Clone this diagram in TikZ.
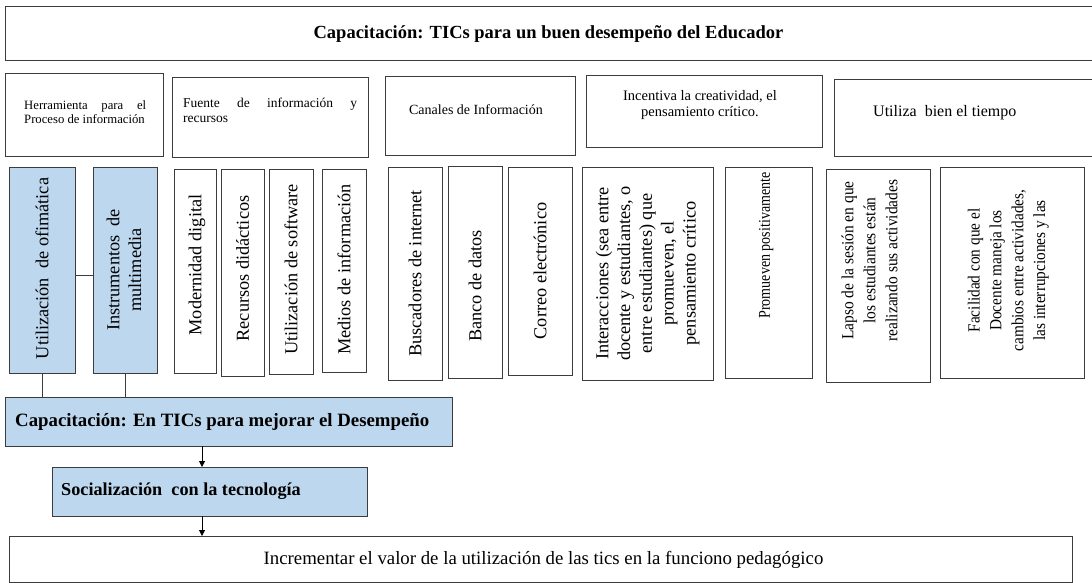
\documentclass[tikz,border=0pt]{standalone}
\usepackage{fontspec}
\setmainfont{Liberation Serif}
\usetikzlibrary{arrows.meta}
\definecolor{edge}{RGB}{60,60,60}
\definecolor{lblue}{RGB}{189,215,238}
\newcommand\mybox[6]{\node[#1, anchor=north west, minimum width={(#5-#3)*1pt}, minimum height={(#6-#4)*1pt}] (#2) at (#3,#4) {};}
\newcommand\narrow[2]{\scalebox{#1}[1]{\begin{tabular}{@{}c@{}}#2\end{tabular}}}
\tikzset{
  wbox/.style={draw=edge, line width=1pt, fill=white, inner sep=0pt, outer sep=0pt},
  bbox/.style={draw=edge, line width=1pt, fill=lblue, inner sep=0pt, outer sep=0pt},
  vtxt/.style={rotate=90, align=center, inner sep=0pt, font=\fontsize{18.3}{21.8}\selectfont},
  conn/.style={draw=edge, line width=1pt},
  arr/.style={draw=black, line width=1pt, -{Triangle[length=6pt,width=6pt]}}
}
\begin{document}
\begin{tikzpicture}[x=1pt,y=-1pt]
\useasboundingbox (0,0) rectangle (1092,583);
% title
\mybox{wbox}{top}{5}{7}{1096}{61}
\node[inner sep=0pt, font=\fontsize{18.5}{21}\selectfont\bfseries] (toptxt) at ([xshift=-2pt]top.center) {Capacitación: TICs para un buen desempeño del Educador};
% row 2
\mybox{wbox}{her}{5}{74}{163}{156}
\mybox{wbox}{fue}{172}{78}{368}{157}
\mybox{wbox}{can}{385}{77}{575}{155}
\mybox{wbox}{inc}{586}{76}{822}{148}
\mybox{wbox}{uti}{834}{80}{1096}{156}
\node[inner sep=0pt, font=\fontsize{12.7}{14.5}\selectfont, anchor=west, text width=122pt, align=justify] (hertxt) at ([xshift=19pt,yshift=3pt]her.west) {Herramienta para el\linebreak Proceso de información};
\node[inner sep=0pt, font=\fontsize{13.5}{15}\selectfont, anchor=west, text width=174pt, align=justify] (fuetxt) at ([xshift=11pt,yshift=7pt]fue.west) {Fuente de información y\linebreak recursos};
\node[inner sep=0pt, font=\fontsize{14}{16}\selectfont] (cantxt) at ([xshift=-4pt,yshift=6pt]can.center) {Canales de Información};
\node[inner sep=0pt, align=center, font=\fontsize{14.5}{16}\selectfont] (inctxt) at ([xshift=-4pt,yshift=7pt]inc.center) {Incentiva la creatividad, el\\pensamiento crítico.};
\node[inner sep=0pt, anchor=west, font=\fontsize{16}{18}\selectfont] (utitxt) at ([xshift=39pt,yshift=5pt]uti.west) {Utiliza\ \ bien el tiempo};
% row 3
\mybox{bbox}{ofi}{9}{167}{75}{373}
\mybox{bbox}{ins}{93}{167}{157}{373}
\mybox{wbox}{mod}{174}{169}{216}{373}
\mybox{wbox}{rec}{221}{169}{264}{376}
\mybox{wbox}{sof}{269}{169}{313}{374}
\mybox{wbox}{med}{322}{169}{366}{372}
\mybox{wbox}{bus}{388}{167}{442}{380}
\mybox{wbox}{ban}{448}{166}{502}{378}
\mybox{wbox}{cor}{508}{167}{572}{375}
\mybox{wbox}{int}{582}{167}{713}{380}
\mybox{wbox}{pro}{725}{167}{812}{378}
\mybox{wbox}{lap}{826}{169}{930}{382}
\mybox{wbox}{fac}{940}{167}{1084}{378}
\node[vtxt] (ofitxt) at ([yshift=1.5pt]ofi.center) {Utilización\ \ de ofimática};
\node[vtxt] (instxt) at ([xshift=-1pt]ins.center) {Instrumentos\ \ de\\multimedia};
\node[vtxt] (modtxt) at ([xshift=2pt,yshift=6pt]mod.center) {Modernidad digital};
\node[vtxt] (rectxt) at ([yshift=4pt]rec.center) {Recursos didácticos};
\node[vtxt] (softxt) at ([yshift=2pt]sof.center) {Utilización de software};
\node[vtxt] (medtxt) at ([yshift=1pt]med.center) {Medios de información};
\node[vtxt] (bustxt) at (bus.center) {Buscadores de internet};
\node[vtxt] (bantxt) at ([yshift=-14pt]ban.center) {Banco de datos};
\node[vtxt] (cortxt) at (cor.center) {Correo electrónico};
\node[vtxt] (inttxt) at (int.center) {Interacciones (sea entre\\docente y estudiantes, o\\entre estudiantes) que\\promueven, el\\pensamiento crítico};
\node[vtxt, font=\fontsize{16.5}{22}\selectfont] (protxt) at ([xshift=-3pt,yshift=27pt]pro.center) {\narrow{0.85}{Promueven positivamente}};
\node[vtxt, font=\fontsize{17}{22}\selectfont] (laptxt) at ([xshift=-7pt,yshift=15pt]lap.center) {\narrow{0.91}{Lapso de la sesión en que\\los estudiantes están\\realizando sus actividades}};
\node[vtxt, font=\fontsize{17}{21.8}\selectfont] (factxt) at ([xshift=-4pt,yshift=2pt]fac.center) {\narrow{0.9}{Facilidad con que el\\Docente maneja los\\cambios entre actividades,\\las interrupciones y las}};
% bottom
\mybox{bbox}{cap}{5}{397}{452}{446}
\mybox{bbox}{soc}{52}{467}{367}{516}
\mybox{wbox}{fin}{9}{536}{1072}{582}
\node[inner sep=0pt, anchor=west, font=\fontsize{18.8}{21}\selectfont\bfseries] (captxt) at ([xshift=10pt]cap.west) {Capacitación: En TICs para mejorar el Desempeño};
\node[inner sep=0pt, anchor=west, font=\fontsize{18.2}{21}\selectfont\bfseries] (soctxt) at ([xshift=9pt]soc.west) {Socialización\ \ con la tecnología};
\node[inner sep=0pt, font=\fontsize{18.8}{21}\selectfont] (fintxt) at ([xshift=3pt,yshift=-1pt]fin.center) {Incrementar el valor de la utilización de las tics en la funciono pedagógico};
% connectors
\draw[conn] (ofi.south) -- (ofi.south |- cap.north);
\draw[conn] (ins.south) -- (ins.south |- cap.north);
\draw[conn] ([yshift=-5pt]ofi.east) -- ([yshift=-5pt]ins.west);
\draw[arr] ([xshift=150pt]soc.north west |- cap.south) -- ([xshift=150pt]soc.north west);
\draw[arr] ([xshift=150pt]soc.south west) -- ([xshift=150pt]soc.south west |- fin.north);
\end{tikzpicture}
\end{document}
